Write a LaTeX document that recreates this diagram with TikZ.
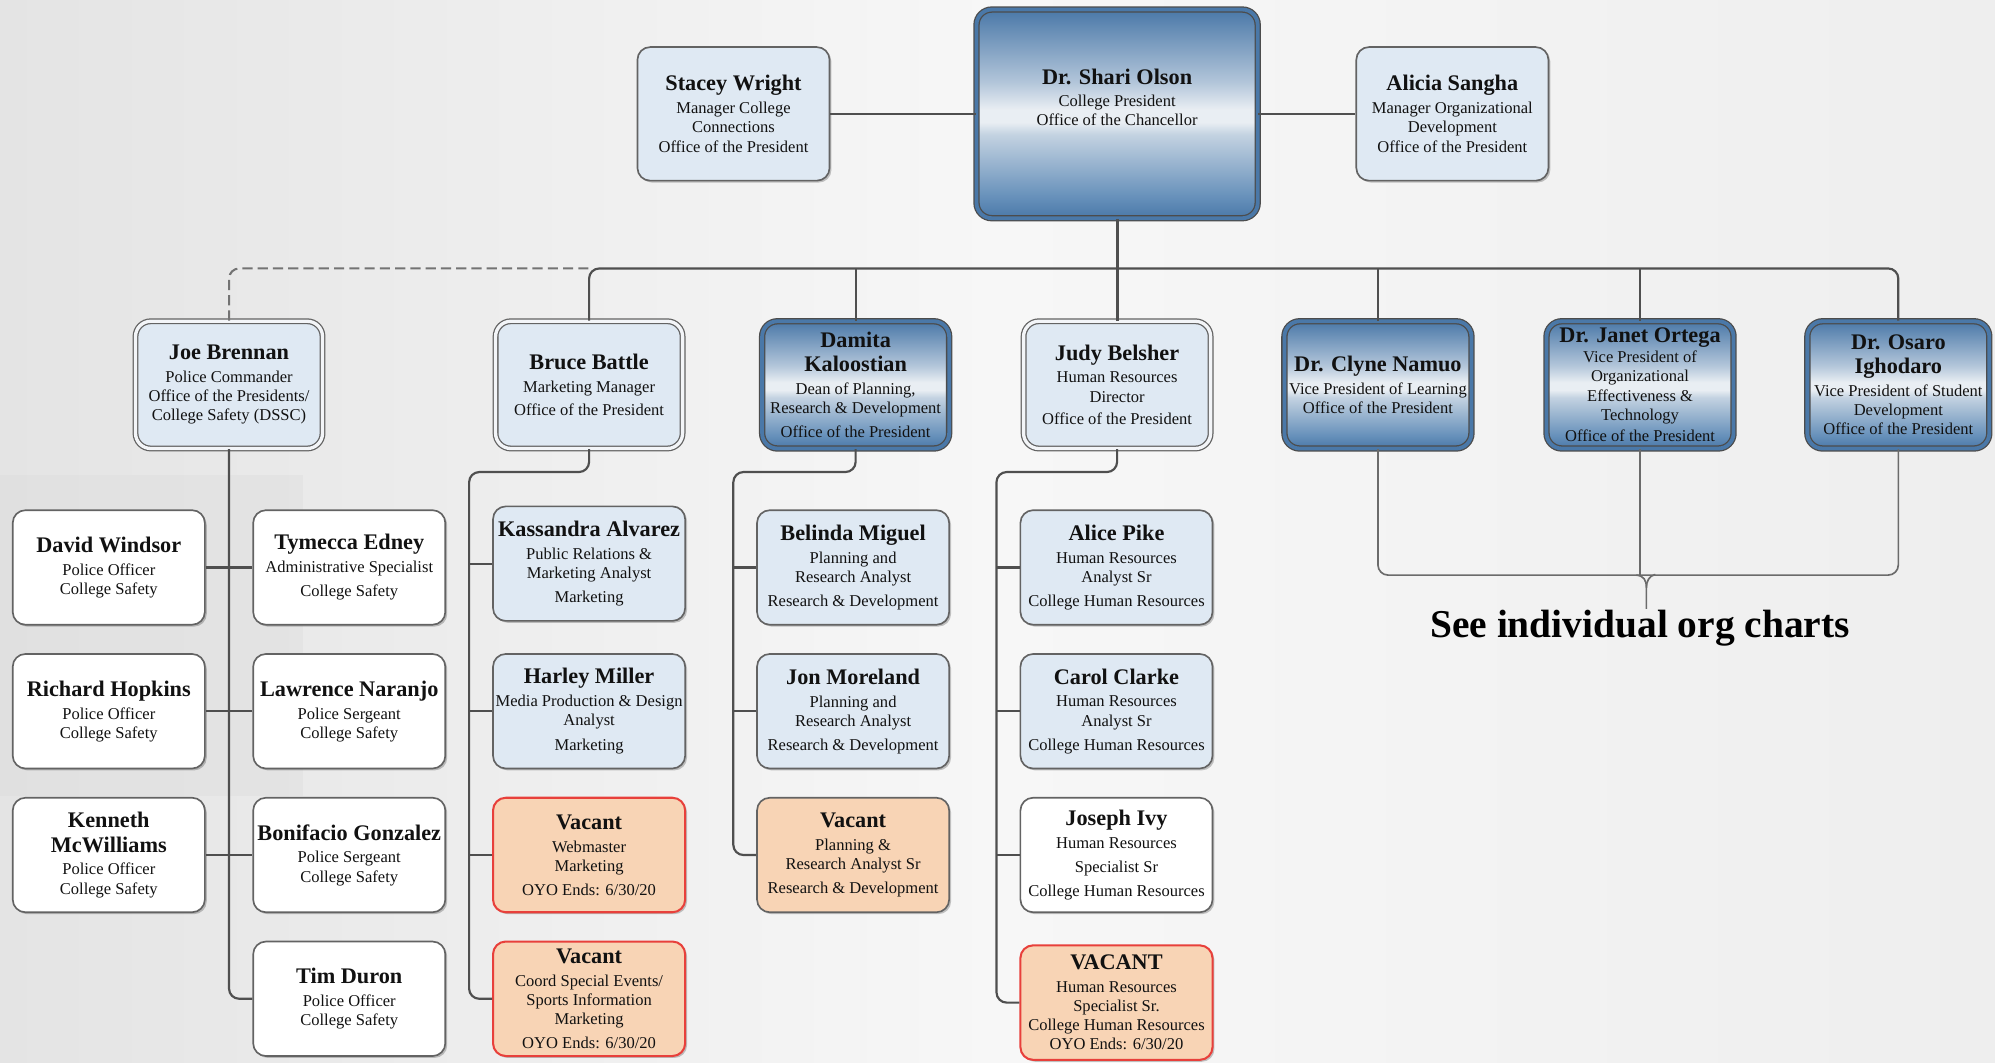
\documentclass[tikz,border=0pt]{standalone}
\usepackage{fontspec}
\setmainfont{Liberation Serif}
\usetikzlibrary{shadows}
\definecolor{bgL}{HTML}{E4E4E4}
\definecolor{bgM}{HTML}{F7F7F7}
\definecolor{bgR}{HTML}{EEEEEE}
\definecolor{bgD}{HTML}{DCDCDC}
\definecolor{lb}{HTML}{DFE9F3}
\definecolor{orf}{HTML}{F8D4B5}
\definecolor{redb}{HTML}{E8403B}
\definecolor{edgeC}{HTML}{636363}
\definecolor{lineC}{HTML}{4F4F4F}
\definecolor{bD}{HTML}{4A78A8}
\definecolor{bM}{HTML}{6690BA}
\definecolor{bLa}{HTML}{B3C6DA}
\definecolor{bLb}{HTML}{C3D2E1}
\definecolor{bW}{HTML}{E9EEF3}
\definecolor{dgap}{HTML}{F3F5F8}
\definecolor{txt}{HTML}{111111}
\pgfdeclareverticalshading{bluegrad}{100bp}{color(0bp)=(bD); color(25bp)=(bD); color(30bp)=(bM); color(45bp)=(bLb); color(48bp)=(bW); color(51bp)=(bW); color(57.5bp)=(bLa); color(75bp)=(bD); color(100bp)=(bD)}
\newcommand\subf{\fontsize{13}{15}\selectfont}
\newcommand\nm[1]{{\fontsize{17.5}{19}\selectfont\bfseries #1}}
\tikzset{
  shadowy/.style={drop shadow={shadow xshift=1.5pt, shadow yshift=-1.5pt, opacity=0.22, fill=black}},
  box/.style={rounded corners=10pt, minimum width=151pt, minimum height=90pt, inner sep=0pt,
    align=center, draw=edgeC, line width=1.3pt, font=\subf, text=txt, shadowy},
  wbox/.style={box, fill=white},
  lbox/.style={box, fill=lb},
  obox/.style={box, fill=orf},
  rbox/.style={box, fill=orf, draw=redb, line width=1.6pt},
  dbox/.style={box, minimum width=147pt, minimum height=100pt, fill=lb, draw=edgeC,
    line width=1pt, double=dgap, double distance=2.6pt, rounded corners=12pt},
  bbox/.style={box, minimum width=147pt, minimum height=100pt, shading=bluegrad, draw=black!70,
    line width=1pt, double=bD, double distance=3pt, rounded corners=12pt},
  conn/.style={draw=lineC, line width=1.7pt, rounded corners=8pt},
  thinconn/.style={draw=black!58, line width=1.3pt, rounded corners=8pt},
  dashconn/.style={draw=black!55, line width=1.6pt, dash pattern=on 8pt off 4pt, rounded corners=8pt},
}
\begin{document}
\begin{tikzpicture}[x=1pt,y=-1pt]
\useasboundingbox (0,0) rectangle (1568,835);
% background
\fill[left color=bgL, right color=bgR, middle color=bgM] (0,0) rectangle (1568,835);
\fill[bgD, opacity=0.4] (0,373) rectangle (238,626);

% ---------- top row
\node[lbox, minimum height=105pt] (stacey) at (576.5,89.5)
  {\nm{Stacey Wright}\\[3pt]Manager College\\Connections\\Office of the President};
\node[bbox, minimum width=221pt, minimum height=164pt,
  label={[align=center,font=\subf,text=txt,yshift=13pt]center:{\nm{Dr. Shari Olson}\\[2pt]College President\\Office of the Chancellor}}]
  (shari) at (878,89.5) {};
\node[lbox, minimum height=105pt] (alicia) at (1141.5,89.5)
  {\nm{Alicia Sangha}\\[3pt]Manager Organizational\\Development\\Office of the President};

% ---------- second row
\node[dbox] (joe) at (180,302.5)
  {\nm{Joe Brennan}\\[3pt]Police Commander\\Office of the Presidents/\\College Safety (DSSC)};
\node[dbox] (bruce) at (463,302.5)
  {\nm{Bruce Battle}\\[3pt]Marketing Manager\\[3pt]Office of the President};
\node[bbox] (damita) at (672.5,302.5)
  {\nm{Damita}\\[4pt]\nm{Kaloostian}\\[3pt]Dean of Planning,\\Research \& Development\\[4pt]Office of the President};
\node[dbox] (judy) at (878,302.5)
  {\nm{Judy Belsher}\\[3pt]Human Resources\\Director\\[3pt]Office of the President};
\node[bbox] (clyne) at (1083,302.5)
  {\nm{Dr. Clyne Namuo}\\[3pt]Vice President of Learning\\Office of the President};
\node[bbox] (janet) at (1289,302.5)
  {\nm{Dr. Janet Ortega}\\[1pt]Vice President of\\Organizational\\Effectiveness \&\\Technology\\[2pt]Office of the President};
\node[bbox, minimum width=143pt] (osaro) at (1492,302.5)
  {\nm{Dr. Osaro}\\[4pt]\nm{Ighodaro}\\[3pt]Vice President of Student\\Development\\Office of the President};

% ---------- College Safety
\node[wbox] (david) at (85.5,446) {\nm{David Windsor}\\[3pt]Police Officer\\College Safety};
\node[wbox] (richard) at (85.5,559) {\nm{Richard Hopkins}\\[3pt]Police Officer\\College Safety};
\node[wbox] (kenneth) at (85.5,672) {\nm{Kenneth}\\[4pt]\nm{McWilliams}\\[3pt]Police Officer\\College Safety};
\node[wbox] (tymecca) at (274.5,446) {\nm{Tymecca Edney}\\[3pt]Administrative Specialist\\[4pt]College Safety};
\node[wbox] (lawrence) at (274.5,559) {\nm{Lawrence Naranjo}\\[3pt]Police Sergeant\\College Safety};
\node[wbox] (bonifacio) at (274.5,672) {\nm{Bonifacio Gonzalez}\\[3pt]Police Sergeant\\College Safety};
\node[wbox] (tim) at (274.5,785) {\nm{Tim Duron}\\[3pt]Police Officer\\College Safety};

% ---------- Marketing
\node[lbox] (kass) at (463,443) {\nm{Kassandra Alvarez}\\[3pt]Public Relations \&\\Marketing Analyst\\[4pt]Marketing};
\node[lbox] (harley) at (463,559) {\nm{Harley Miller}\\[3pt]Media Production \& Design\\Analyst\\[5pt]Marketing};
\node[rbox] (vacw) at (463,672) {\nm{Vacant}\\[3pt]Webmaster\\Marketing\\[4pt]OYO Ends: 6/30/20};
\node[rbox] (vacc) at (463,785) {\nm{Vacant}\\[3pt]Coord Special Events/\\Sports Information\\Marketing\\[4pt]OYO Ends: 6/30/20};

% ---------- Research & Development
\node[lbox] (belinda) at (670.5,446) {\nm{Belinda Miguel}\\[3pt]Planning and\\Research Analyst\\[4pt]Research \& Development};
\node[lbox] (jon) at (670.5,559) {\nm{Jon Moreland}\\[3pt]Planning and\\Research Analyst\\[4pt]Research \& Development};
\node[obox] (vacp) at (670.5,672) {\nm{Vacant}\\[3pt]Planning \&\\Research Analyst Sr\\[4pt]Research \& Development};

% ---------- Human Resources
\node[lbox] (alice) at (877.5,446) {\nm{Alice Pike}\\[3pt]Human Resources\\Analyst Sr\\[4pt]College Human Resources};
\node[lbox] (carol) at (877.5,559) {\nm{Carol Clarke}\\[3pt]Human Resources\\Analyst Sr\\[4pt]College Human Resources};
\node[wbox] (joseph) at (877.5,672) {\nm{Joseph Ivy}\\[3pt]Human Resources\\[4pt]Specialist Sr\\[4pt]College Human Resources};
\node[rbox] (vach) at (877.5,788) {\nm{VACANT}\\[3pt]Human Resources\\Specialist Sr.\\College Human Resources\\OYO Ends: 6/30/20};

% ---------- connectors, top
\draw[conn] (stacey.east) -- (shari.west);
\draw[conn] (shari.east) -- (alicia.west);
\coordinate (bus) at (878,211);
\draw[dashconn] (joe.north) |- (bruce.north |- bus);
\draw[conn] (bruce.north) |- (bus) -| (osaro.north);
\draw[conn] (damita.north) -- (damita.north |- bus);
\draw[conn] (clyne.north) -- (clyne.north |- bus);
\draw[conn] (janet.north) -- (janet.north |- bus);
\draw[conn, line width=2.4pt] (shari.south) -- (judy.north);

% College Safety
\draw[conn] (joe.south) |- (tim.west);
\draw[conn] (david.east) -- (tymecca.west);
\draw[conn] (richard.east) -- (lawrence.west);
\draw[conn] (kenneth.east) -- (bonifacio.west);

% Marketing
\draw[conn] (bruce.south) -- ++(0,18) -| ([xshift=-18pt]vacc.west) -- (vacc.west);
\draw[conn] (kass.west) -- ++(-18pt,0);
\draw[conn] (harley.west) -- ++(-18pt,0);
\draw[conn] (vacw.west) -- ++(-18pt,0);

% R&D
\draw[conn] (damita.south) -- ++(0,18) -| ([xshift=-18pt]vacp.west) -- (vacp.west);
\draw[conn] (belinda.west) -- ++(-18pt,0);
\draw[conn] (jon.west) -- ++(-18pt,0);

% HR
\draw[conn] (judy.south) -- ++(0,18) -| ([xshift=-18pt]vach.west) -- (vach.west);
\draw[conn] (alice.west) -- ++(-18pt,0);
\draw[conn] (carol.west) -- ++(-18pt,0);
\draw[conn] (joseph.west) -- ++(-18pt,0);

% VPs -> see individual org charts
\node[inner sep=1pt, font=\fontsize{31}{34}\selectfont\bfseries, text=black] (see) at (1289,494) {See individual org charts};
\coordinate (brk) at (1289,452);
\draw[thinconn] (clyne.south) |- (brk) -| (osaro.south);
\draw[thinconn] (janet.south) -- (brk);
\draw[thinconn, rounded corners=0pt] ([shift={(-3pt,0pt)}]brk) .. controls ([shift={(3pt,-0.5pt)}]brk) and ([shift={(5pt,-4pt)}]brk) .. ([shift={(5pt,-10pt)}]brk) -- ([xshift=5pt]see.north);
\draw[thinconn, rounded corners=0pt] ([shift={(12pt,0.5pt)}]brk) .. controls ([shift={(7pt,-0.5pt)}]brk) and ([shift={(5pt,-5pt)}]brk) .. ([shift={(5pt,-10pt)}]brk);
\end{tikzpicture}
\end{document}
